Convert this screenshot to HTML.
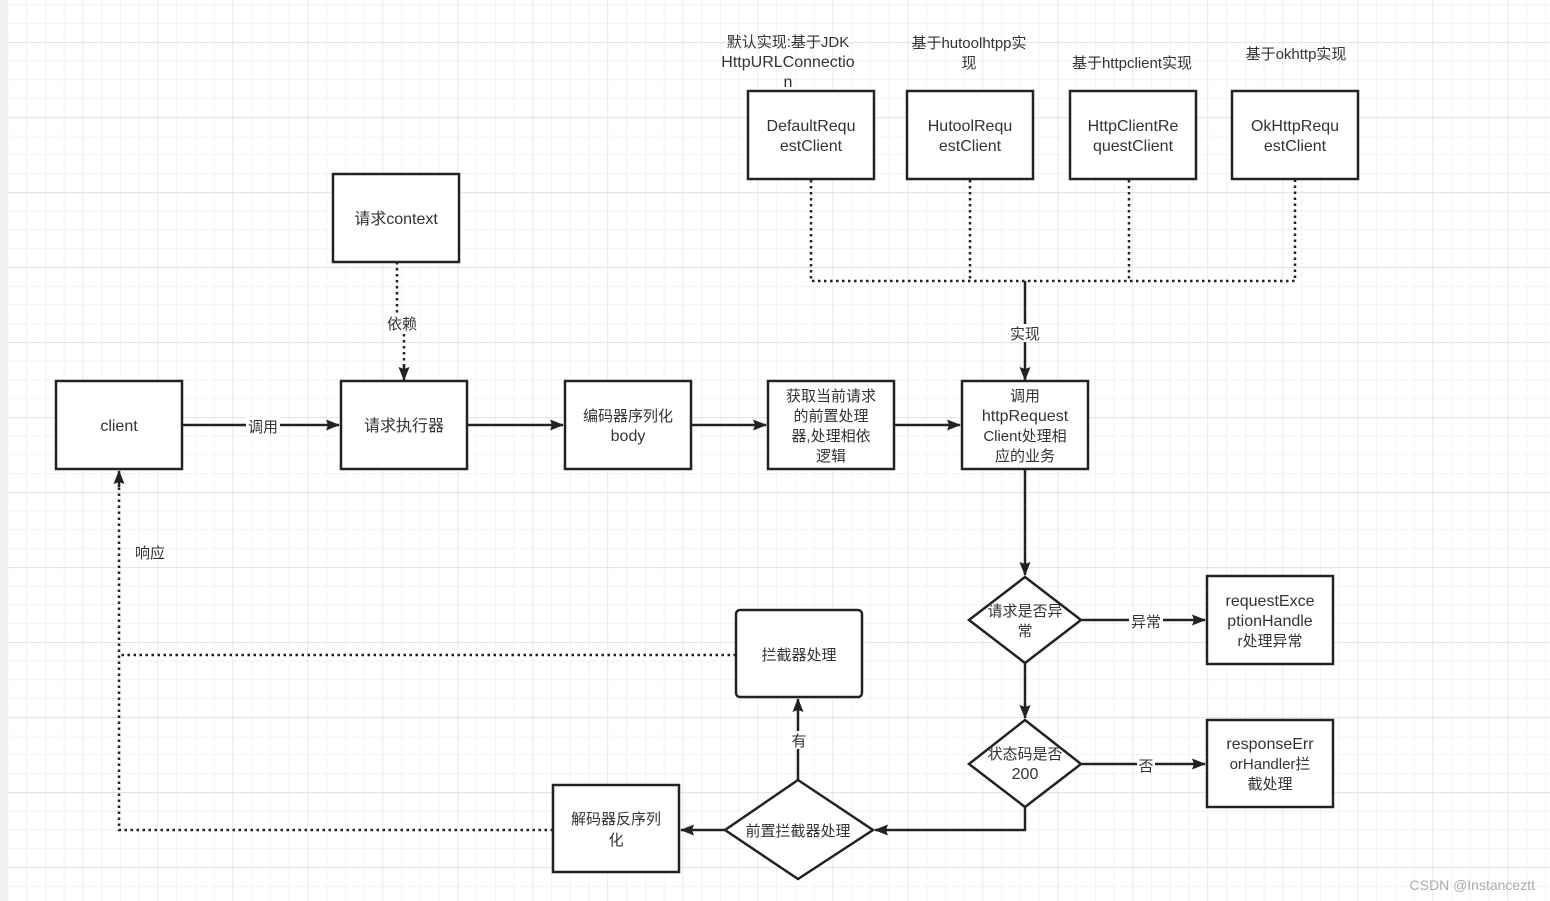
<!DOCTYPE html>
<html><head><meta charset="utf-8"><style>
html,body{margin:0;padding:0;background:#fff;}
svg{display:block;}
text{font-family:"Liberation Sans","Noto Sans CJK SC",sans-serif;fill:#333;}
</style></head><body>
<svg width="1550" height="901" viewBox="0 0 1550 901" xmlns="http://www.w3.org/2000/svg">
<defs>
<pattern id="g" x="7.5" y="4.5" width="18.75" height="18.75" patternUnits="userSpaceOnUse">
<path d="M0 0H18.75M0 0V18.75" stroke="#ececec" stroke-width="1.2" fill="none"/>
</pattern>
<pattern id="G" x="7.5" y="42.5" width="75" height="75" patternUnits="userSpaceOnUse">
<path d="M0 0H75M0 0V75" stroke="#dedede" stroke-width="1.2" fill="none"/>
</pattern>
<marker id="a" markerWidth="14" markerHeight="11" refX="13" refY="5.5" orient="auto" markerUnits="userSpaceOnUse" viewBox="0 0 14 11">
<path d="M0 0L14 5.5L0 11L2 5.5Z" fill="#222"/>
</marker>
</defs>
<rect width="1550" height="901" fill="#fff"/>
<rect x="0" y="0" width="8" height="901" fill="#f0f0f0"/>
<rect x="8" y="0" width="1542" height="901" fill="url(#g)"/>
<rect x="8" y="0" width="1542" height="901" fill="url(#G)"/>

<g stroke="#222" stroke-width="2.5" fill="none">
<g stroke-dasharray="2.5 3.5">
<path d="M811 180V281H1295V180M970 180V281M1129 180V281"/>
<path d="M397 262V315"/>
<path d="M553 830H119V486M736 655H119"/>
</g>
<path d="M404 334V367" stroke-dasharray="2.5 3.5"/>
<path d="M404 366V380" marker-end="url(#a)"/>
<path d="M1025 281V380" marker-end="url(#a)"/>
<path d="M182 425H339" marker-end="url(#a)"/>
<path d="M467 425H563" marker-end="url(#a)"/>
<path d="M691 425H766" marker-end="url(#a)"/>
<path d="M894 425H960" marker-end="url(#a)"/>
<path d="M1025 469V575" marker-end="url(#a)"/>
<path d="M1025 663V718" marker-end="url(#a)"/>
<path d="M1082 620H1205" marker-end="url(#a)"/>
<path d="M1082 764H1205" marker-end="url(#a)"/>
<path d="M1025 807V830H875" marker-end="url(#a)"/>
<path d="M725 830H681" marker-end="url(#a)"/>
<path d="M798 780V699" marker-end="url(#a)"/>
<path d="M119 487V471" marker-end="url(#a)"/>
</g>

<g stroke="#222" stroke-width="2.5" fill="#fff">
<rect x="748" y="91" width="126" height="88"/>
<rect x="907" y="91" width="126" height="88"/>
<rect x="1070" y="91" width="126" height="88"/>
<rect x="1232" y="91" width="126" height="88"/>
<rect x="333" y="174" width="126" height="88"/>
<rect x="56" y="381" width="126" height="88"/>
<rect x="341" y="381" width="126" height="88"/>
<rect x="565" y="381" width="126" height="88"/>
<rect x="768" y="381" width="126" height="88"/>
<rect x="962" y="381" width="126" height="88"/>
<rect x="1207" y="576" width="126" height="88"/>
<rect x="1207" y="720" width="126" height="87"/>
<rect x="736" y="610" width="126" height="87" rx="4"/>
<rect x="553" y="785" width="126" height="87"/>
<path d="M1025 577L1081 620L1025 663L969 620Z"/>
<path d="M1025 720L1081 764L1025 807L969 764Z"/>
<path d="M798 780L873 830L798 879L725 830Z"/>
</g>

<g font-size="16" text-anchor="middle">
<text x="811" y="131">DefaultRequ</text><text x="811" y="151">estClient</text>
<text x="970" y="131">HutoolRequ</text><text x="970" y="151">estClient</text>
<text x="1133" y="131">HttpClientRe</text><text x="1133" y="151">questClient</text>
<text x="1295" y="131">OkHttpRequ</text><text x="1295" y="151">estClient</text>
<text x="396" y="224">请求context</text>
<text x="119" y="431">client</text>
<text x="404" y="431">请求执行器</text>
<text x="628" y="421" font-size="15">编码器序列化</text><text x="628" y="441">body</text>
<text x="831" y="401" font-size="15">获取当前请求</text><text x="831" y="421" font-size="15">的前置处理</text><text x="831" y="441" font-size="15">器,处理相依</text><text x="831" y="461" font-size="15">逻辑</text>
<text x="1025" y="401" font-size="15">调用</text><text x="1025" y="421">httpRequest</text><text x="1025" y="441" font-size="15">Client处理相</text><text x="1025" y="461" font-size="15">应的业务</text>
<text x="1270" y="606">requestExce</text><text x="1270" y="626">ptionHandle</text><text x="1270" y="646" font-size="15">r处理异常</text>
<text x="1270" y="749">responseErr</text><text x="1270" y="769" font-size="15">orHandler拦</text><text x="1270" y="789" font-size="15">截处理</text>
<text x="1025" y="616" font-size="15">请求是否异</text><text x="1025" y="636" font-size="15">常</text>
<text x="1025" y="759" font-size="15">状态码是否</text><text x="1025" y="779">200</text>
<text x="799" y="660" font-size="15">拦截器处理</text>
<text x="616" y="824" font-size="15">解码器反序列</text><text x="616" y="845" font-size="15">化</text>
<text x="798" y="836" font-size="15">前置拦截器处理</text>
<text x="788" y="47" font-size="15">默认实现:基于JDK</text><text x="788" y="67">HttpURLConnectio</text><text x="788" y="87">n</text>
<text x="969" y="48" font-size="15">基于hutoolhtpp实</text><text x="969" y="68" font-size="15">现</text>
<text x="1132" y="68" font-size="15">基于httpclient实现</text>
<text x="1296" y="59" font-size="15">基于okhttp实现</text>
</g>
<g font-size="15" text-anchor="middle">
<rect x="246" y="417" width="34" height="18" fill="#fff"/><text x="263" y="432">调用</text>
<text x="402" y="329">依赖</text>
<rect x="1008" y="324" width="34" height="18" fill="#fff"/><text x="1025" y="339">实现</text>
<rect x="1129" y="612" width="34" height="18" fill="#fff"/><text x="1146" y="627">异常</text>
<rect x="1137" y="756" width="18" height="18" fill="#fff"/><text x="1146" y="771">否</text>
<rect x="790" y="731" width="18" height="18" fill="#fff"/><text x="799" y="746">有</text>
<text x="150" y="558">响应</text>
</g>
<text x="1535" y="890" font-size="14" text-anchor="end" style="fill:#aaa">CSDN @Instanceztt</text>
</svg>
</body></html>
